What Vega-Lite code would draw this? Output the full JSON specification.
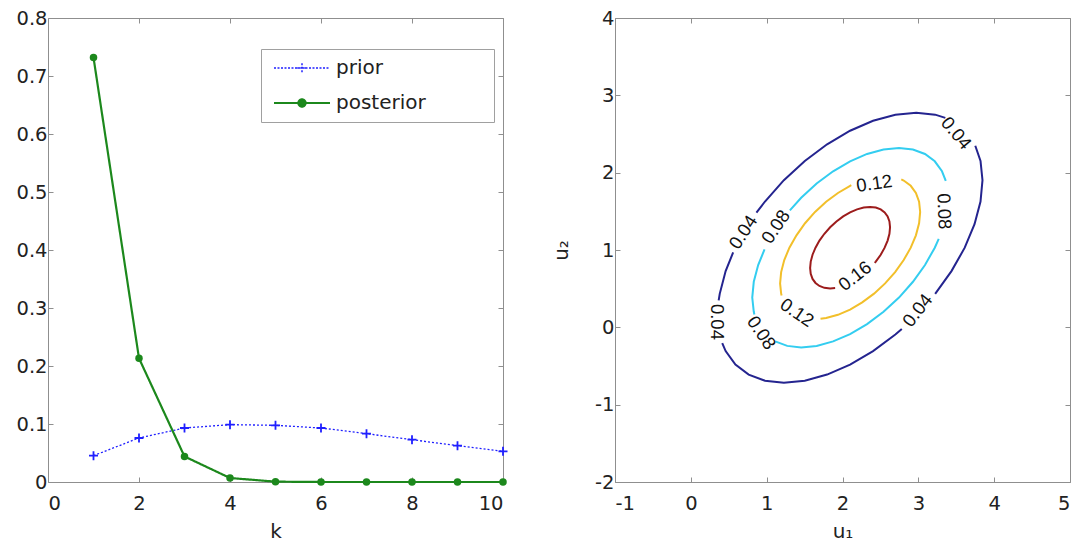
{
 "$schema": "https://vega.github.io/schema/vega-lite/v6.json",
 "background": "white",
 "padding": {"left": 15, "top": 8, "right": 2, "bottom": 0},
 "config": {
  "font": "DejaVu Sans",
  "view": {"stroke": null},
  "axis": {
   "grid": false, "domainColor": "#8f8f8f", "tickColor": "#8f8f8f", "tickSize": -5, "tickWidth": 1, "domainWidth": 1,
   "labelFont": "DejaVu Sans", "labelFontSize": 19.5, "labelColor": "#222222",
   "titleFont": "DejaVu Sans", "titleFontSize": 20, "titleFontWeight": "normal", "titleColor": "#222222"
  },
  "axisX": {"labelPadding": 17, "titlePadding": 9},
  "axisY": {"labelPadding": 6, "titlePadding": 23}
 },
 "bounds": "flush",
 "spacing": 112,
 "resolve": {"scale": {"color": "independent"}, "legend": {"color": "independent"}},
 "hconcat": [
  {
   "width": 455, "height": 464,
   "data": {"values": [
    {"k":1,"p":0.0454,"s":"prior"},{"k":2,"p":0.0759,"s":"prior"},{"k":3,"p":0.0931,"s":"prior"},{"k":4,"p":0.0989,"s":"prior"},{"k":5,"p":0.0977,"s":"prior"},{"k":6,"p":0.0931,"s":"prior"},{"k":7,"p":0.0833,"s":"prior"},{"k":8,"p":0.073,"s":"prior"},{"k":9,"p":0.0626,"s":"prior"},{"k":10,"p":0.0529,"s":"prior"},
    {"k":1,"p":0.732,"s":"posterior"},{"k":2,"p":0.2133,"s":"posterior"},{"k":3,"p":0.044,"s":"posterior"},{"k":4,"p":0.0069,"s":"posterior"},{"k":5,"p":0.0006,"s":"posterior"},{"k":6,"p":0.0,"s":"posterior"},{"k":7,"p":0.0,"s":"posterior"},{"k":8,"p":0.0,"s":"posterior"},{"k":9,"p":0.0,"s":"posterior"},{"k":10,"p":0.0,"s":"posterior"}
   ]},
   "layer": [
    {
     "mark": {"type": "line"},
     "encoding": {
      "x": {"field": "k", "type": "quantitative", "scale": {"domain": [0, 10], "nice": false, "zero": false},
            "axis": {"orient": "bottom", "values": [0, 2, 4, 6, 8, 10], "title": "k", "labelExpr": "'' + datum.value"}},
      "y": {"field": "p", "type": "quantitative", "scale": {"domain": [0, 0.8], "nice": false},
            "axis": {"orient": "left", "values": [0, 0.1, 0.2, 0.3, 0.4, 0.5, 0.6, 0.7, 0.8], "title": null, "labelExpr": "'' + datum.value"}},
      "color": {"field": "s", "type": "nominal",
                "scale": {"domain": ["prior", "posterior"], "range": ["#1f1fff", "#1c881c"]},
                "legend": {
                 "orient": "none", "legendX": 213, "legendY": 31, "title": null,
                 "padding": 9, "strokeColor": "#a0a0a0", "fillColor": "white",
                 "symbolSize": 256, "symbolOffset": 22, "labelOffset": 24, "rowPadding": 15,
                 "labelFontSize": 20, "labelFont": "DejaVu Sans", "labelColor": "#222222", "labelLimit": 400,
                 "labelExpr": "datum.label + '\u2800\u2800\u2800\u2800'",
                 "encode": {"symbols": {"update": {
                  "shape": {"signal": "datum.value === 'prior' ? 'M-3.5,0H3.5M0,-0.6V0.6M-0.6,0H0.6' : 'M-3.5,0H3.5M0.45,0A0.45,0.45,0,1,1,-0.45,0A0.45,0.45,0,1,1,0.45,0Z'"},
                  "stroke": {"signal": "datum.value === 'prior' ? '#1f1fff' : '#1c881c'"},
                  "fill": {"signal": "datum.value === 'prior' ? 'transparent' : '#1c881c'"},
                  "strokeDash": {"signal": "datum.value === 'prior' ? [2,1.5] : [1,0]"},
                  "strokeWidth": {"signal": "datum.value === 'prior' ? 1.5 : 2.2"},
                  "size": {"value": 256},
                  "opacity": {"value": 1}
                 }}}
                }},
      "strokeDash": {"field": "s", "type": "nominal", "scale": {"domain": ["prior", "posterior"], "range": [[2, 2], [1, 0]]}, "legend": null},
      "strokeWidth": {"field": "s", "type": "nominal", "scale": {"domain": ["prior", "posterior"], "range": [1.3, 2.2]}, "legend": null}
     }
    },
    {
     "transform": [{"filter": "datum.s === 'prior'"}],
     "mark": {"type": "point", "shape": "M-1,0H1M0,-1V1", "filled": false, "size": 81, "strokeWidth": 1.8, "color": "#1f1fff", "opacity": 1},
     "encoding": {
      "x": {"field": "k", "type": "quantitative", "scale": {"domain": [0, 10], "nice": false, "zero": false},
            "axis": {"orient": "top", "labels": false, "title": null, "values": [0, 2, 4, 6, 8, 10]}},
      "y": {"field": "p", "type": "quantitative", "scale": {"domain": [0, 0.8], "nice": false},
            "axis": {"orient": "right", "labels": false, "title": null, "values": [0, 0.1, 0.2, 0.3, 0.4, 0.5, 0.6, 0.7, 0.8]}}
     }
    },
    {
     "transform": [{"filter": "datum.s === 'posterior'"}],
     "mark": {"type": "point", "shape": "circle", "filled": true, "size": 56, "color": "#1c881c", "opacity": 1},
     "encoding": {
      "x": {"field": "k", "type": "quantitative", "scale": {"domain": [0, 10], "nice": false, "zero": false}, "axis": null},
      "y": {"field": "p", "type": "quantitative", "scale": {"domain": [0, 0.8], "nice": false}, "axis": null}
     }
    }
   ],
   "resolve": {"axis": {"x": "independent", "y": "independent"}}
  },
  {
   "width": 455, "height": 464,
   "layer": [
    {
     "data": {"values": [
      {"lev":"0.04","seg":"o1","i":0,"x":3.356,"y":2.708},{"lev":"0.04","seg":"o1","i":1,"x":3.222,"y":2.750},{"lev":"0.04","seg":"o1","i":2,"x":2.973,"y":2.776},{"lev":"0.04","seg":"o1","i":3,"x":2.697,"y":2.750},{"lev":"0.04","seg":"o1","i":4,"x":2.403,"y":2.671},{"lev":"0.04","seg":"o1","i":5,"x":2.100,"y":2.542},{"lev":"0.04","seg":"o1","i":6,"x":1.797,"y":2.367},{"lev":"0.04","seg":"o1","i":7,"x":1.503,"y":2.152},{"lev":"0.04","seg":"o1","i":8,"x":1.227,"y":1.903},{"lev":"0.04","seg":"o1","i":9,"x":0.978,"y":1.627},{"lev":"0.04","seg":"o1","i":10,"x":0.865,"y":1.482},
      {"lev":"0.04","seg":"o2","i":0,"x":0.558,"y":0.969},{"lev":"0.04","seg":"o2","i":1,"x":0.459,"y":0.727},{"lev":"0.04","seg":"o2","i":2,"x":0.381,"y":0.433},{"lev":"0.04","seg":"o2","i":3,"x":0.367,"y":0.348},
      {"lev":"0.04","seg":"o3","i":0,"x":0.414,"y":-0.205},{"lev":"0.04","seg":"o3","i":1,"x":0.459,"y":-0.307},{"lev":"0.04","seg":"o3","i":2,"x":0.588,"y":-0.482},{"lev":"0.04","seg":"o3","i":3,"x":0.763,"y":-0.611},{"lev":"0.04","seg":"o3","i":4,"x":0.978,"y":-0.690},{"lev":"0.04","seg":"o3","i":5,"x":1.227,"y":-0.716},{"lev":"0.04","seg":"o3","i":6,"x":1.503,"y":-0.690},{"lev":"0.04","seg":"o3","i":7,"x":1.797,"y":-0.611},{"lev":"0.04","seg":"o3","i":8,"x":2.100,"y":-0.482},{"lev":"0.04","seg":"o3","i":9,"x":2.403,"y":-0.307},{"lev":"0.04","seg":"o3","i":10,"x":2.697,"y":-0.092},{"lev":"0.04","seg":"o3","i":11,"x":2.782,"y":-0.021},
      {"lev":"0.04","seg":"o4","i":0,"x":3.222,"y":0.433},{"lev":"0.04","seg":"o4","i":1,"x":3.437,"y":0.727},{"lev":"0.04","seg":"o4","i":2,"x":3.612,"y":1.030},{"lev":"0.04","seg":"o4","i":3,"x":3.741,"y":1.333},{"lev":"0.04","seg":"o4","i":4,"x":3.820,"y":1.627},{"lev":"0.04","seg":"o4","i":5,"x":3.846,"y":1.903},{"lev":"0.04","seg":"o4","i":6,"x":3.820,"y":2.152},{"lev":"0.04","seg":"o4","i":7,"x":3.751,"y":2.348},
      {"lev":"0.08","seg":"c1","i":0,"x":3.362,"y":1.893},{"lev":"0.08","seg":"c1","i":1,"x":3.312,"y":2.018},{"lev":"0.08","seg":"c1","i":2,"x":3.217,"y":2.147},{"lev":"0.08","seg":"c1","i":3,"x":3.088,"y":2.242},{"lev":"0.08","seg":"c1","i":4,"x":2.929,"y":2.300},{"lev":"0.08","seg":"c1","i":5,"x":2.745,"y":2.320},{"lev":"0.08","seg":"c1","i":6,"x":2.541,"y":2.300},{"lev":"0.08","seg":"c1","i":7,"x":2.324,"y":2.242},{"lev":"0.08","seg":"c1","i":8,"x":2.100,"y":2.147},{"lev":"0.08","seg":"c1","i":9,"x":1.876,"y":2.018},{"lev":"0.08","seg":"c1","i":10,"x":1.659,"y":1.859},{"lev":"0.08","seg":"c1","i":11,"x":1.455,"y":1.675},{"lev":"0.08","seg":"c1","i":12,"x":1.306,"y":1.513},
      {"lev":"0.08","seg":"c2","i":0,"x":0.972,"y":1.007},{"lev":"0.08","seg":"c2","i":1,"x":0.888,"y":0.806},{"lev":"0.08","seg":"c2","i":2,"x":0.830,"y":0.589},{"lev":"0.08","seg":"c2","i":3,"x":0.810,"y":0.385},{"lev":"0.08","seg":"c2","i":4,"x":0.830,"y":0.201},{"lev":"0.08","seg":"c2","i":5,"x":0.838,"y":0.167},
      {"lev":"0.08","seg":"c3","i":0,"x":1.112,"y":-0.182},{"lev":"0.08","seg":"c3","i":1,"x":1.271,"y":-0.240},{"lev":"0.08","seg":"c3","i":2,"x":1.455,"y":-0.260},{"lev":"0.08","seg":"c3","i":3,"x":1.659,"y":-0.240},{"lev":"0.08","seg":"c3","i":4,"x":1.876,"y":-0.182},{"lev":"0.08","seg":"c3","i":5,"x":2.100,"y":-0.087},{"lev":"0.08","seg":"c3","i":6,"x":2.324,"y":0.042},{"lev":"0.08","seg":"c3","i":7,"x":2.541,"y":0.201},{"lev":"0.08","seg":"c3","i":8,"x":2.745,"y":0.385},{"lev":"0.08","seg":"c3","i":9,"x":2.929,"y":0.589},{"lev":"0.08","seg":"c3","i":10,"x":3.088,"y":0.806},{"lev":"0.08","seg":"c3","i":11,"x":3.217,"y":1.030},{"lev":"0.08","seg":"c3","i":12,"x":3.269,"y":1.143},
      {"lev":"0.12","seg":"y1","i":0,"x":2.116,"y":1.838},{"lev":"0.12","seg":"y1","i":1,"x":2.100,"y":1.830},{"lev":"0.12","seg":"y1","i":2,"x":1.940,"y":1.737},{"lev":"0.12","seg":"y1","i":3,"x":1.784,"y":1.624},{"lev":"0.12","seg":"y1","i":4,"x":1.638,"y":1.492},{"lev":"0.12","seg":"y1","i":5,"x":1.506,"y":1.346},{"lev":"0.12","seg":"y1","i":6,"x":1.393,"y":1.190},{"lev":"0.12","seg":"y1","i":7,"x":1.300,"y":1.030},{"lev":"0.12","seg":"y1","i":8,"x":1.232,"y":0.870},{"lev":"0.12","seg":"y1","i":9,"x":1.191,"y":0.714},{"lev":"0.12","seg":"y1","i":10,"x":1.177,"y":0.568},{"lev":"0.12","seg":"y1","i":11,"x":1.191,"y":0.436},{"lev":"0.12","seg":"y1","i":12,"x":1.197,"y":0.412},
      {"lev":"0.12","seg":"y2","i":0,"x":1.710,"y":0.110},{"lev":"0.12","seg":"y2","i":1,"x":1.784,"y":0.121},{"lev":"0.12","seg":"y2","i":2,"x":1.940,"y":0.162},{"lev":"0.12","seg":"y2","i":3,"x":2.100,"y":0.230},{"lev":"0.12","seg":"y2","i":4,"x":2.260,"y":0.323},{"lev":"0.12","seg":"y2","i":5,"x":2.416,"y":0.436},{"lev":"0.12","seg":"y2","i":6,"x":2.562,"y":0.568},{"lev":"0.12","seg":"y2","i":7,"x":2.694,"y":0.714},{"lev":"0.12","seg":"y2","i":8,"x":2.807,"y":0.870},{"lev":"0.12","seg":"y2","i":9,"x":2.900,"y":1.030},{"lev":"0.12","seg":"y2","i":10,"x":2.968,"y":1.190},{"lev":"0.12","seg":"y2","i":11,"x":3.010,"y":1.346},{"lev":"0.12","seg":"y2","i":12,"x":3.024,"y":1.492},{"lev":"0.12","seg":"y2","i":13,"x":3.010,"y":1.624},{"lev":"0.12","seg":"y2","i":14,"x":2.968,"y":1.737},{"lev":"0.12","seg":"y2","i":15,"x":2.900,"y":1.830},{"lev":"0.12","seg":"y2","i":16,"x":2.807,"y":1.898},{"lev":"0.12","seg":"y2","i":17,"x":2.775,"y":1.913},
      {"lev":"0.16","seg":"r1","i":0,"x":2.425,"y":0.833},{"lev":"0.16","seg":"r1","i":1,"x":2.439,"y":0.850},{"lev":"0.16","seg":"r1","i":2,"x":2.504,"y":0.939},{"lev":"0.16","seg":"r1","i":3,"x":2.556,"y":1.030},{"lev":"0.16","seg":"r1","i":4,"x":2.595,"y":1.122},{"lev":"0.16","seg":"r1","i":5,"x":2.619,"y":1.210},{"lev":"0.16","seg":"r1","i":6,"x":2.627,"y":1.294},{"lev":"0.16","seg":"r1","i":7,"x":2.619,"y":1.369},{"lev":"0.16","seg":"r1","i":8,"x":2.595,"y":1.434},{"lev":"0.16","seg":"r1","i":9,"x":2.556,"y":1.486},{"lev":"0.16","seg":"r1","i":10,"x":2.504,"y":1.525},{"lev":"0.16","seg":"r1","i":11,"x":2.439,"y":1.549},{"lev":"0.16","seg":"r1","i":12,"x":2.364,"y":1.557},{"lev":"0.16","seg":"r1","i":13,"x":2.280,"y":1.549},{"lev":"0.16","seg":"r1","i":14,"x":2.192,"y":1.525},{"lev":"0.16","seg":"r1","i":15,"x":2.100,"y":1.486},{"lev":"0.16","seg":"r1","i":16,"x":2.009,"y":1.434},{"lev":"0.16","seg":"r1","i":17,"x":1.920,"y":1.369},{"lev":"0.16","seg":"r1","i":18,"x":1.837,"y":1.294},{"lev":"0.16","seg":"r1","i":19,"x":1.761,"y":1.210},{"lev":"0.16","seg":"r1","i":20,"x":1.696,"y":1.122},{"lev":"0.16","seg":"r1","i":21,"x":1.644,"y":1.030},{"lev":"0.16","seg":"r1","i":22,"x":1.605,"y":0.939},{"lev":"0.16","seg":"r1","i":23,"x":1.581,"y":0.850},{"lev":"0.16","seg":"r1","i":24,"x":1.573,"y":0.766},{"lev":"0.16","seg":"r1","i":25,"x":1.581,"y":0.691},{"lev":"0.16","seg":"r1","i":26,"x":1.605,"y":0.626},{"lev":"0.16","seg":"r1","i":27,"x":1.644,"y":0.574},{"lev":"0.16","seg":"r1","i":28,"x":1.696,"y":0.535},{"lev":"0.16","seg":"r1","i":29,"x":1.761,"y":0.511},{"lev":"0.16","seg":"r1","i":30,"x":1.837,"y":0.503},{"lev":"0.16","seg":"r1","i":31,"x":1.903,"y":0.508}
     ]},
     "mark": {"type": "line", "strokeWidth": 2},
     "encoding": {
      "x": {"field": "x", "type": "quantitative", "scale": {"domain": [-1, 5], "nice": false, "zero": false},
            "axis": {"orient": "bottom", "values": [-1, 0, 1, 2, 3, 4, 5], "title": "u₁", "labelExpr": "'' + datum.value"}},
      "y": {"field": "y", "type": "quantitative", "scale": {"domain": [-2, 4], "nice": false, "zero": false},
            "axis": {"orient": "left", "values": [-2, -1, 0, 1, 2, 3, 4], "title": "u₂", "labelExpr": "'' + datum.value"}},
      "detail": {"field": "seg", "type": "nominal"},
      "order": {"field": "i", "type": "quantitative"},
      "color": {"field": "lev", "type": "nominal",
                "scale": {"domain": ["0.04", "0.08", "0.12", "0.16"], "range": ["#24248f", "#33cdf0", "#f2bf2a", "#9c1c1c"]},
                "legend": null}
     }
    },
    {
     "data": {"values": [
      {"t":"0.04","x":3.50,"y":2.51,"a":50},
      {"t":"0.04","x":0.69,"y":1.23,"a":-57},
      {"t":"0.04","x":0.34,"y":0.07,"a":90},
      {"t":"0.04","x":2.99,"y":0.22,"a":-52},
      {"t":"0.08","x":1.12,"y":1.30,"a":-56},
      {"t":"0.08","x":3.34,"y":1.50,"a":88},
      {"t":"0.08","x":0.93,"y":-0.07,"a":56},
      {"t":"0.12","x":2.42,"y":1.86,"a":-8},
      {"t":"0.12","x":1.40,"y":0.19,"a":34},
      {"t":"0.16","x":2.165,"y":0.665,"a":-38}
     ]},
     "mark": {"type": "text", "font": "Liberation Sans", "fontSize": 18.5, "color": "#111111", "align": "center", "baseline": "middle"},
     "encoding": {
      "x": {"field": "x", "type": "quantitative", "scale": {"domain": [-1, 5], "nice": false, "zero": false},
            "axis": {"orient": "top", "labels": false, "title": null, "values": [-1, 0, 1, 2, 3, 4, 5]}},
      "y": {"field": "y", "type": "quantitative", "scale": {"domain": [-2, 4], "nice": false, "zero": false},
            "axis": {"orient": "right", "labels": false, "title": null, "values": [-2, -1, 0, 1, 2, 3, 4]}},
      "text": {"field": "t", "type": "nominal"},
      "angle": {"field": "a", "type": "quantitative", "scale": null}
     }
    }
   ],
   "resolve": {"axis": {"x": "independent", "y": "independent"}}
  }
 ]
}
